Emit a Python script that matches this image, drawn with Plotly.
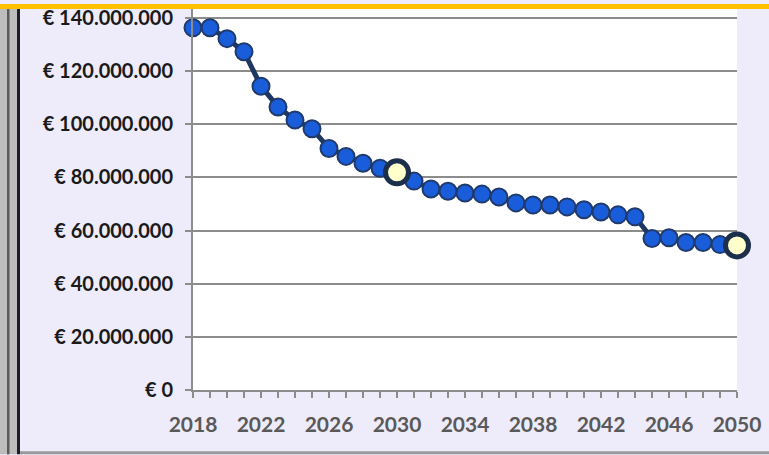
import plotly.graph_objects as go

years = list(range(2018, 2051))
values = [136.3, 136.3, 132.2, 127.3, 114.3, 106.5, 101.6, 98.3, 90.9, 87.9,
          85.3, 83.4, 81.9, 78.6, 75.6, 74.8, 74.1, 73.7, 72.6, 70.4,
          69.6, 69.6, 68.9, 67.8, 67.0, 65.9, 65.2, 57.0, 57.3, 55.5,
          55.5, 54.7, 54.4]
values = [v * 1e6 for v in values]
highlight_years = [2030, 2050]
highlight_values = [values[years.index(y)] for y in highlight_years]

y_tickvals = [0, 20e6, 40e6, 60e6, 80e6, 100e6, 120e6, 140e6]
y_ticktext = ["€ 0", "€ 20.000.000", "€ 40.000.000", "€ 60.000.000", "€ 80.000.000",
              "€ 100.000.000", "€ 120.000.000", "€ 140.000.000"]
x_tickvals = years
x_ticktext = [str(y) if (y - 2018) % 4 == 0 else "" for y in years]

fig = go.Figure()
fig.add_trace(go.Scatter(
    x=years, y=values, mode="lines+markers",
    line=dict(color="#1F3862", width=5),
    marker=dict(size=17, color="#1A5DDA", line=dict(color="#1F3A6B", width=2)),
    cliponaxis=False, showlegend=False, hoverinfo="skip"))
fig.add_trace(go.Scatter(
    x=highlight_years, y=highlight_values, mode="markers",
    marker=dict(size=23, color="#FFFFCC", line=dict(color="#1B2E4B", width=5)),
    cliponaxis=False, showlegend=False, hoverinfo="skip"))

W, H = 769, 455
L, R, T, B = 193, 737, 5, 390

def px(x):
    return (x - L) / (R - L)

def py(y):
    return (B - y) / (B - T)

shapes = [
    dict(type="rect", xref="paper", yref="paper", x0=px(0), x1=px(W), y0=py(5), y1=py(0),
         fillcolor="#FFC000", line=dict(width=0), layer="above"),
    dict(type="rect", xref="paper", yref="paper", x0=px(0), x1=px(17), y0=py(H), y1=py(0),
         fillcolor="#BDBDBD", line=dict(width=0), layer="below"),
    dict(type="rect", xref="paper", yref="paper", x0=px(7), x1=px(9.5), y0=py(H), y1=py(5),
         fillcolor="#5A5A5A", line=dict(width=0), layer="below"),
    dict(type="rect", xref="paper", yref="paper", x0=px(17), x1=px(20), y0=py(H), y1=py(5),
         fillcolor="#1C1C2C", line=dict(width=0), layer="below"),
    dict(type="rect", xref="paper", yref="paper", x0=px(20), x1=px(W), y0=py(H), y1=py(452),
         fillcolor="#9A9A9A", line=dict(width=0), layer="below"),
]

fig.update_layout(
    width=W, height=H,
    margin=dict(l=L, r=W - R, t=T, b=H - B, pad=0),
    paper_bgcolor="#EEEBFA", plot_bgcolor="#FFFFFF",
    shapes=shapes,
    xaxis=dict(range=[2018, 2050], tickvals=x_tickvals, ticktext=x_ticktext,
               showgrid=False, zeroline=False, showline=True, linecolor="#8C8C8C", linewidth=2,
               ticks="outside", ticklen=6, tickwidth=1.5, tickcolor="#8C8C8C",
               ticklabelstandoff=9,
               tickfont=dict(family="Lato", size=21, color="#595959", weight="bold"),
               fixedrange=True),
    yaxis=dict(range=[0, 140e6 * (B - T) / (B - 14)], tickvals=y_tickvals, ticktext=y_ticktext,
               showgrid=True, gridcolor="#8C8C8C", gridwidth=2, zeroline=False,
               showline=True, linecolor="#8C8C8C", linewidth=2,
               ticks="outside", ticklen=6, tickwidth=2, tickcolor="#8C8C8C",
               ticklabelstandoff=8,
               tickfont=dict(family="Lato", size=20, color="#1A1A1A", weight="bold"),
               fixedrange=True),
)

fig.write_html("out.html", config={"displayModeBar": False},
               post_script="document.body.style.margin='0';document.body.style.overflow='hidden';")
